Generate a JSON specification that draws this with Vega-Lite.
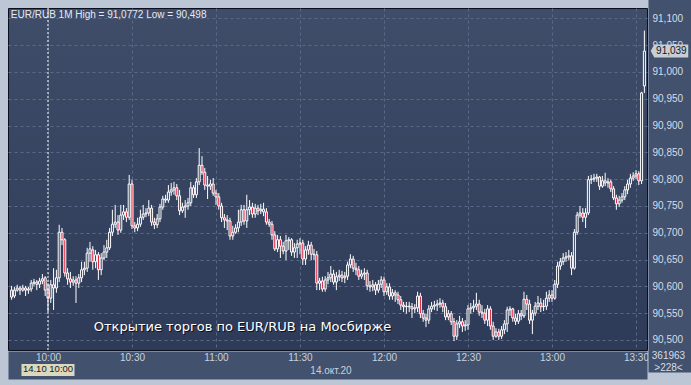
{
"$schema":"https://vega.github.io/schema/vega-lite/v6.json",
"width":639,"height":342,
"autosize":{"type":"none"},
"padding":{"left":8,"top":8,"right":44,"bottom":35},
"background":"#bcc6d4",
"data":{"format":{"parse":{"t":"date:'%H:%M'"}},"values":[
{"t":"09:47","o":90.593,"h":90.601,"l":90.575,"c":90.580},
{"t":"09:48","o":90.582,"h":90.599,"l":90.578,"c":90.593},
{"t":"09:49","o":90.593,"h":90.603,"l":90.590,"c":90.597},
{"t":"09:50","o":90.597,"h":90.601,"l":90.584,"c":90.593},
{"t":"09:51","o":90.593,"h":90.603,"l":90.590,"c":90.597},
{"t":"09:52","o":90.597,"h":90.601,"l":90.582,"c":90.593},
{"t":"09:53","o":90.593,"h":90.599,"l":90.586,"c":90.595},
{"t":"09:54","o":90.595,"h":90.612,"l":90.590,"c":90.606},
{"t":"09:55","o":90.606,"h":90.614,"l":90.601,"c":90.608},
{"t":"09:56","o":90.608,"h":90.612,"l":90.593,"c":90.604},
{"t":"09:57","o":90.604,"h":90.616,"l":90.597,"c":90.610},
{"t":"09:58","o":90.610,"h":90.623,"l":90.604,"c":90.614},
{"t":"09:59","o":90.616,"h":90.619,"l":90.582,"c":90.593},
{"t":"10:00","o":90.593,"h":90.606,"l":90.552,"c":90.578},
{"t":"10:01","o":90.578,"h":90.612,"l":90.569,"c":90.603},
{"t":"10:02","o":90.603,"h":90.634,"l":90.556,"c":90.597},
{"t":"10:03","o":90.597,"h":90.631,"l":90.588,"c":90.616},
{"t":"10:04","o":90.616,"h":90.715,"l":90.608,"c":90.701},
{"t":"10:05","o":90.701,"h":90.709,"l":90.677,"c":90.687},
{"t":"10:06","o":90.687,"h":90.690,"l":90.618,"c":90.625},
{"t":"10:07","o":90.625,"h":90.634,"l":90.603,"c":90.614},
{"t":"10:08","o":90.614,"h":90.627,"l":90.597,"c":90.608},
{"t":"10:09","o":90.608,"h":90.619,"l":90.601,"c":90.612},
{"t":"10:10","o":90.612,"h":90.619,"l":90.569,"c":90.606},
{"t":"10:11","o":90.606,"h":90.623,"l":90.597,"c":90.616},
{"t":"10:12","o":90.616,"h":90.646,"l":90.608,"c":90.631},
{"t":"10:13","o":90.631,"h":90.646,"l":90.621,"c":90.634},
{"t":"10:14","o":90.634,"h":90.672,"l":90.627,"c":90.662},
{"t":"10:15","o":90.662,"h":90.683,"l":90.646,"c":90.670},
{"t":"10:16","o":90.668,"h":90.675,"l":90.631,"c":90.646},
{"t":"10:17","o":90.646,"h":90.668,"l":90.634,"c":90.659},
{"t":"10:18","o":90.659,"h":90.664,"l":90.612,"c":90.631},
{"t":"10:19","o":90.631,"h":90.662,"l":90.621,"c":90.653},
{"t":"10:20","o":90.653,"h":90.677,"l":90.649,"c":90.664},
{"t":"10:21","o":90.664,"h":90.687,"l":90.653,"c":90.672},
{"t":"10:22","o":90.672,"h":90.709,"l":90.668,"c":90.701},
{"t":"10:23","o":90.701,"h":90.743,"l":90.694,"c":90.716},
{"t":"10:24","o":90.716,"h":90.752,"l":90.709,"c":90.720},
{"t":"10:25","o":90.720,"h":90.733,"l":90.696,"c":90.705},
{"t":"10:26","o":90.705,"h":90.752,"l":90.700,"c":90.733},
{"t":"10:27","o":90.733,"h":90.752,"l":90.724,"c":90.739},
{"t":"10:28","o":90.739,"h":90.746,"l":90.720,"c":90.729},
{"t":"10:29","o":90.729,"h":90.808,"l":90.724,"c":90.791},
{"t":"10:30","o":90.791,"h":90.799,"l":90.707,"c":90.713},
{"t":"10:31","o":90.713,"h":90.720,"l":90.701,"c":90.709},
{"t":"10:32","o":90.709,"h":90.728,"l":90.703,"c":90.716},
{"t":"10:33","o":90.716,"h":90.743,"l":90.711,"c":90.729},
{"t":"10:34","o":90.729,"h":90.752,"l":90.724,"c":90.735},
{"t":"10:35","o":90.735,"h":90.746,"l":90.729,"c":90.737},
{"t":"10:36","o":90.737,"h":90.761,"l":90.731,"c":90.746},
{"t":"10:37","o":90.746,"h":90.752,"l":90.713,"c":90.720},
{"t":"10:38","o":90.720,"h":90.728,"l":90.707,"c":90.715},
{"t":"10:39","o":90.715,"h":90.735,"l":90.709,"c":90.726},
{"t":"10:40","o":90.726,"h":90.754,"l":90.720,"c":90.748},
{"t":"10:41","o":90.748,"h":90.769,"l":90.743,"c":90.763},
{"t":"10:42","o":90.763,"h":90.771,"l":90.756,"c":90.761},
{"t":"10:43","o":90.761,"h":90.789,"l":90.756,"c":90.776},
{"t":"10:44","o":90.776,"h":90.793,"l":90.769,"c":90.780},
{"t":"10:45","o":90.780,"h":90.795,"l":90.771,"c":90.784},
{"t":"10:46","o":90.784,"h":90.791,"l":90.761,"c":90.769},
{"t":"10:47","o":90.769,"h":90.780,"l":90.733,"c":90.741},
{"t":"10:48","o":90.741,"h":90.756,"l":90.737,"c":90.748},
{"t":"10:49","o":90.748,"h":90.761,"l":90.728,"c":90.750},
{"t":"10:50","o":90.750,"h":90.765,"l":90.743,"c":90.756},
{"t":"10:51","o":90.756,"h":90.795,"l":90.750,"c":90.784},
{"t":"10:52","o":90.784,"h":90.789,"l":90.765,"c":90.771},
{"t":"10:53","o":90.771,"h":90.802,"l":90.765,"c":90.795},
{"t":"10:54","o":90.795,"h":90.858,"l":90.789,"c":90.826},
{"t":"10:55","o":90.826,"h":90.843,"l":90.808,"c":90.813},
{"t":"10:56","o":90.813,"h":90.821,"l":90.780,"c":90.789},
{"t":"10:57","o":90.789,"h":90.806,"l":90.763,"c":90.787},
{"t":"10:58","o":90.787,"h":90.799,"l":90.780,"c":90.791},
{"t":"10:59","o":90.791,"h":90.802,"l":90.769,"c":90.774},
{"t":"11:00","o":90.774,"h":90.780,"l":90.752,"c":90.767},
{"t":"11:01","o":90.767,"h":90.774,"l":90.743,"c":90.750},
{"t":"11:02","o":90.750,"h":90.756,"l":90.720,"c":90.728},
{"t":"11:03","o":90.728,"h":90.735,"l":90.709,"c":90.724},
{"t":"11:04","o":90.724,"h":90.733,"l":90.705,"c":90.722},
{"t":"11:05","o":90.722,"h":90.728,"l":90.687,"c":90.694},
{"t":"11:06","o":90.694,"h":90.713,"l":90.687,"c":90.701},
{"t":"11:07","o":90.701,"h":90.716,"l":90.698,"c":90.709},
{"t":"11:08","o":90.709,"h":90.743,"l":90.701,"c":90.720},
{"t":"11:09","o":90.720,"h":90.752,"l":90.713,"c":90.743},
{"t":"11:10","o":90.743,"h":90.752,"l":90.715,"c":90.722},
{"t":"11:11","o":90.722,"h":90.771,"l":90.709,"c":90.743},
{"t":"11:12","o":90.743,"h":90.761,"l":90.733,"c":90.748},
{"t":"11:13","o":90.748,"h":90.756,"l":90.728,"c":90.735},
{"t":"11:14","o":90.735,"h":90.754,"l":90.728,"c":90.746},
{"t":"11:15","o":90.746,"h":90.752,"l":90.733,"c":90.741},
{"t":"11:16","o":90.741,"h":90.754,"l":90.735,"c":90.744},
{"t":"11:17","o":90.744,"h":90.756,"l":90.731,"c":90.739},
{"t":"11:18","o":90.739,"h":90.746,"l":90.715,"c":90.720},
{"t":"11:19","o":90.720,"h":90.726,"l":90.711,"c":90.716},
{"t":"11:20","o":90.716,"h":90.722,"l":90.687,"c":90.696},
{"t":"11:21","o":90.696,"h":90.703,"l":90.666,"c":90.670},
{"t":"11:22","o":90.670,"h":90.696,"l":90.664,"c":90.687},
{"t":"11:23","o":90.687,"h":90.694,"l":90.653,"c":90.675},
{"t":"11:24","o":90.675,"h":90.683,"l":90.660,"c":90.666},
{"t":"11:25","o":90.666,"h":90.696,"l":90.649,"c":90.685},
{"t":"11:26","o":90.685,"h":90.692,"l":90.668,"c":90.687},
{"t":"11:27","o":90.687,"h":90.690,"l":90.657,"c":90.664},
{"t":"11:28","o":90.664,"h":90.681,"l":90.653,"c":90.672},
{"t":"11:29","o":90.672,"h":90.687,"l":90.653,"c":90.679},
{"t":"11:30","o":90.679,"h":90.690,"l":90.660,"c":90.681},
{"t":"11:31","o":90.681,"h":90.687,"l":90.640,"c":90.651},
{"t":"11:32","o":90.651,"h":90.675,"l":90.640,"c":90.668},
{"t":"11:33","o":90.668,"h":90.685,"l":90.659,"c":90.677},
{"t":"11:34","o":90.677,"h":90.683,"l":90.649,"c":90.660},
{"t":"11:35","o":90.660,"h":90.670,"l":90.649,"c":90.659},
{"t":"11:36","o":90.659,"h":90.666,"l":90.593,"c":90.606},
{"t":"11:37","o":90.606,"h":90.616,"l":90.593,"c":90.610},
{"t":"11:38","o":90.610,"h":90.618,"l":90.590,"c":90.595},
{"t":"11:39","o":90.595,"h":90.619,"l":90.590,"c":90.612},
{"t":"11:40","o":90.612,"h":90.627,"l":90.604,"c":90.616},
{"t":"11:41","o":90.616,"h":90.638,"l":90.608,"c":90.623},
{"t":"11:42","o":90.623,"h":90.631,"l":90.603,"c":90.608},
{"t":"11:43","o":90.608,"h":90.627,"l":90.593,"c":90.618},
{"t":"11:44","o":90.618,"h":90.631,"l":90.610,"c":90.621},
{"t":"11:45","o":90.621,"h":90.629,"l":90.608,"c":90.616},
{"t":"11:46","o":90.616,"h":90.627,"l":90.606,"c":90.619},
{"t":"11:47","o":90.619,"h":90.646,"l":90.612,"c":90.640},
{"t":"11:48","o":90.640,"h":90.660,"l":90.634,"c":90.651},
{"t":"11:49","o":90.651,"h":90.657,"l":90.627,"c":90.634},
{"t":"11:50","o":90.634,"h":90.644,"l":90.621,"c":90.631},
{"t":"11:51","o":90.631,"h":90.638,"l":90.612,"c":90.619},
{"t":"11:52","o":90.619,"h":90.631,"l":90.614,"c":90.623},
{"t":"11:53","o":90.623,"h":90.634,"l":90.612,"c":90.625},
{"t":"11:54","o":90.625,"h":90.631,"l":90.593,"c":90.601},
{"t":"11:55","o":90.601,"h":90.610,"l":90.590,"c":90.599},
{"t":"11:56","o":90.599,"h":90.612,"l":90.591,"c":90.603},
{"t":"11:57","o":90.603,"h":90.608,"l":90.584,"c":90.593},
{"t":"11:58","o":90.593,"h":90.612,"l":90.588,"c":90.604},
{"t":"11:59","o":90.604,"h":90.619,"l":90.597,"c":90.612},
{"t":"12:00","o":90.612,"h":90.618,"l":90.582,"c":90.590},
{"t":"12:01","o":90.590,"h":90.606,"l":90.584,"c":90.599},
{"t":"12:02","o":90.599,"h":90.606,"l":90.575,"c":90.582},
{"t":"12:03","o":90.582,"h":90.595,"l":90.575,"c":90.588},
{"t":"12:04","o":90.588,"h":90.593,"l":90.571,"c":90.584},
{"t":"12:05","o":90.584,"h":90.590,"l":90.567,"c":90.575},
{"t":"12:06","o":90.575,"h":90.582,"l":90.556,"c":90.565},
{"t":"12:07","o":90.565,"h":90.571,"l":90.552,"c":90.562},
{"t":"12:08","o":90.562,"h":90.571,"l":90.549,"c":90.563},
{"t":"12:09","o":90.563,"h":90.571,"l":90.552,"c":90.562},
{"t":"12:10","o":90.562,"h":90.569,"l":90.541,"c":90.558},
{"t":"12:11","o":90.558,"h":90.567,"l":90.550,"c":90.560},
{"t":"12:12","o":90.560,"h":90.590,"l":90.552,"c":90.582},
{"t":"12:13","o":90.582,"h":90.588,"l":90.541,"c":90.549},
{"t":"12:14","o":90.549,"h":90.556,"l":90.534,"c":90.541},
{"t":"12:15","o":90.541,"h":90.549,"l":90.524,"c":90.537},
{"t":"12:16","o":90.537,"h":90.565,"l":90.530,"c":90.558},
{"t":"12:17","o":90.558,"h":90.571,"l":90.552,"c":90.563},
{"t":"12:18","o":90.563,"h":90.573,"l":90.556,"c":90.565},
{"t":"12:19","o":90.565,"h":90.575,"l":90.554,"c":90.567},
{"t":"12:20","o":90.567,"h":90.578,"l":90.560,"c":90.569},
{"t":"12:21","o":90.569,"h":90.575,"l":90.552,"c":90.562},
{"t":"12:22","o":90.562,"h":90.569,"l":90.537,"c":90.543},
{"t":"12:23","o":90.543,"h":90.556,"l":90.537,"c":90.549},
{"t":"12:24","o":90.549,"h":90.554,"l":90.528,"c":90.534},
{"t":"12:25","o":90.534,"h":90.541,"l":90.498,"c":90.507},
{"t":"12:26","o":90.507,"h":90.537,"l":90.500,"c":90.530},
{"t":"12:27","o":90.530,"h":90.545,"l":90.522,"c":90.534},
{"t":"12:28","o":90.534,"h":90.541,"l":90.515,"c":90.526},
{"t":"12:29","o":90.526,"h":90.537,"l":90.517,"c":90.528},
{"t":"12:30","o":90.528,"h":90.565,"l":90.519,"c":90.558},
{"t":"12:31","o":90.558,"h":90.569,"l":90.549,"c":90.560},
{"t":"12:32","o":90.560,"h":90.575,"l":90.552,"c":90.563},
{"t":"12:33","o":90.563,"h":90.588,"l":90.556,"c":90.567},
{"t":"12:34","o":90.567,"h":90.575,"l":90.545,"c":90.552},
{"t":"12:35","o":90.552,"h":90.565,"l":90.541,"c":90.550},
{"t":"12:36","o":90.550,"h":90.558,"l":90.530,"c":90.537},
{"t":"12:37","o":90.537,"h":90.565,"l":90.526,"c":90.558},
{"t":"12:38","o":90.558,"h":90.563,"l":90.519,"c":90.526},
{"t":"12:39","o":90.526,"h":90.534,"l":90.500,"c":90.507},
{"t":"12:40","o":90.507,"h":90.522,"l":90.504,"c":90.515},
{"t":"12:41","o":90.515,"h":90.521,"l":90.500,"c":90.507},
{"t":"12:42","o":90.507,"h":90.526,"l":90.502,"c":90.519},
{"t":"12:43","o":90.519,"h":90.537,"l":90.511,"c":90.530},
{"t":"12:44","o":90.530,"h":90.562,"l":90.515,"c":90.556},
{"t":"12:45","o":90.556,"h":90.563,"l":90.545,"c":90.558},
{"t":"12:46","o":90.558,"h":90.560,"l":90.534,"c":90.541},
{"t":"12:47","o":90.541,"h":90.549,"l":90.528,"c":90.535},
{"t":"12:48","o":90.535,"h":90.556,"l":90.530,"c":90.549},
{"t":"12:49","o":90.549,"h":90.556,"l":90.537,"c":90.545},
{"t":"12:50","o":90.545,"h":90.590,"l":90.541,"c":90.576},
{"t":"12:51","o":90.576,"h":90.584,"l":90.556,"c":90.567},
{"t":"12:52","o":90.567,"h":90.575,"l":90.530,"c":90.537},
{"t":"12:53","o":90.537,"h":90.556,"l":90.511,"c":90.550},
{"t":"12:54","o":90.550,"h":90.571,"l":90.545,"c":90.563},
{"t":"12:55","o":90.563,"h":90.582,"l":90.556,"c":90.569},
{"t":"12:56","o":90.569,"h":90.578,"l":90.552,"c":90.562},
{"t":"12:57","o":90.562,"h":90.575,"l":90.554,"c":90.563},
{"t":"12:58","o":90.563,"h":90.590,"l":90.556,"c":90.578},
{"t":"12:59","o":90.578,"h":90.593,"l":90.571,"c":90.584},
{"t":"13:00","o":90.584,"h":90.593,"l":90.571,"c":90.578},
{"t":"13:01","o":90.578,"h":90.612,"l":90.575,"c":90.604},
{"t":"13:02","o":90.604,"h":90.646,"l":90.597,"c":90.638},
{"t":"13:03","o":90.638,"h":90.653,"l":90.631,"c":90.646},
{"t":"13:04","o":90.646,"h":90.662,"l":90.640,"c":90.653},
{"t":"13:05","o":90.653,"h":90.664,"l":90.646,"c":90.655},
{"t":"13:06","o":90.655,"h":90.668,"l":90.649,"c":90.657},
{"t":"13:07","o":90.657,"h":90.664,"l":90.621,"c":90.634},
{"t":"13:08","o":90.634,"h":90.707,"l":90.631,"c":90.701},
{"t":"13:09","o":90.701,"h":90.739,"l":90.696,"c":90.733},
{"t":"13:10","o":90.733,"h":90.750,"l":90.728,"c":90.737},
{"t":"13:11","o":90.737,"h":90.746,"l":90.720,"c":90.729},
{"t":"13:12","o":90.729,"h":90.746,"l":90.709,"c":90.737},
{"t":"13:13","o":90.737,"h":90.806,"l":90.733,"c":90.799},
{"t":"13:14","o":90.799,"h":90.808,"l":90.791,"c":90.800},
{"t":"13:15","o":90.800,"h":90.810,"l":90.795,"c":90.802},
{"t":"13:16","o":90.802,"h":90.810,"l":90.795,"c":90.804},
{"t":"13:17","o":90.804,"h":90.806,"l":90.780,"c":90.787},
{"t":"13:18","o":90.787,"h":90.806,"l":90.784,"c":90.797},
{"t":"13:19","o":90.797,"h":90.812,"l":90.787,"c":90.793},
{"t":"13:20","o":90.793,"h":90.802,"l":90.784,"c":90.795},
{"t":"13:21","o":90.795,"h":90.799,"l":90.776,"c":90.782},
{"t":"13:22","o":90.782,"h":90.787,"l":90.761,"c":90.765},
{"t":"13:23","o":90.765,"h":90.771,"l":90.743,"c":90.754},
{"t":"13:24","o":90.754,"h":90.769,"l":90.748,"c":90.761},
{"t":"13:25","o":90.761,"h":90.774,"l":90.756,"c":90.767},
{"t":"13:26","o":90.767,"h":90.787,"l":90.761,"c":90.780},
{"t":"13:27","o":90.780,"h":90.799,"l":90.772,"c":90.791},
{"t":"13:28","o":90.791,"h":90.810,"l":90.784,"c":90.802},
{"t":"13:29","o":90.802,"h":90.813,"l":90.797,"c":90.806},
{"t":"13:30","o":90.806,"h":90.817,"l":90.800,"c":90.810},
{"t":"13:31","o":90.810,"h":90.815,"l":90.789,"c":90.797},
{"t":"13:32","o":90.797,"h":90.963,"l":90.791,"c":90.961},
{"t":"13:33","o":90.974,"h":91.0772,"l":90.961,"c":91.039}
]},
"resolve":{"axis":{"x":"independent","y":"independent"}},
"encoding":{
 "x":{"field":"t","type":"temporal","axis":null,
  "scale":{"padding":0,"domain":[{"year":1900,"month":1,"date":1,"hours":9,"minutes":45,"seconds":43},{"year":1900,"month":1,"date":1,"hours":13,"minutes":33,"seconds":56}]}}
},
"layer":[
 {"mark":{"type":"rule","color":"#ffffff","strokeWidth":1},
  "encoding":{
   "x":{"field":"t","type":"temporal",
    "scale":{"padding":0,"domain":[{"year":1900,"month":1,"date":1,"hours":9,"minutes":45,"seconds":43},{"year":1900,"month":1,"date":1,"hours":13,"minutes":33,"seconds":56}]},
    "axis":{"orient":"bottom","title":null,"labels":false,"ticks":false,
     "values":[
      {"year":1900,"month":1,"date":1,"hours":10,"minutes":0},
      {"year":1900,"month":1,"date":1,"hours":10,"minutes":30},
      {"year":1900,"month":1,"date":1,"hours":11,"minutes":0},
      {"year":1900,"month":1,"date":1,"hours":11,"minutes":30},
      {"year":1900,"month":1,"date":1,"hours":12,"minutes":0},
      {"year":1900,"month":1,"date":1,"hours":12,"minutes":30},
      {"year":1900,"month":1,"date":1,"hours":13,"minutes":0},
      {"year":1900,"month":1,"date":1,"hours":13,"minutes":30}],
     "offset":15,"domainWidth":28,"domainColor":"#42516d","domainCap":"butt",
     "grid":true,"gridColor":"#5a6987","gridDash":[3,3],"gridWidth":1}},
   "y":{"field":"l","type":"quantitative","scale":{"domain":[90.4813,91.1194],"nice":false,"zero":false},
    "axis":{"orient":"right","title":null,"labels":false,"ticks":false,
     "values":[90.5,90.55,90.6,90.65,90.7,90.75,90.8,90.85,90.9,90.95,91.0,91.05,91.1],
     "offset":23,"domainWidth":44,"domainColor":"#42516d","domainCap":"square",
     "grid":true,"gridColor":"#5a6987","gridDash":[3,3],"gridWidth":1}},
   "y2":{"field":"h"}}},
 {"mark":{"type":"bar","width":2,"stroke":"#ffffff","strokeWidth":1},
  "encoding":{
   "x":{"field":"t","type":"temporal",
    "scale":{"padding":0,"domain":[{"year":1900,"month":1,"date":1,"hours":9,"minutes":45,"seconds":43},{"year":1900,"month":1,"date":1,"hours":13,"minutes":33,"seconds":56}]},
    "axis":{"orient":"bottom","domain":false,"grid":false,"ticks":false,
     "values":[
      {"year":1900,"month":1,"date":1,"hours":10,"minutes":0},
      {"year":1900,"month":1,"date":1,"hours":10,"minutes":30},
      {"year":1900,"month":1,"date":1,"hours":11,"minutes":0},
      {"year":1900,"month":1,"date":1,"hours":11,"minutes":30},
      {"year":1900,"month":1,"date":1,"hours":12,"minutes":0},
      {"year":1900,"month":1,"date":1,"hours":12,"minutes":30},
      {"year":1900,"month":1,"date":1,"hours":13,"minutes":0},
      {"year":1900,"month":1,"date":1,"hours":13,"minutes":30}],
     "format":"%H:%M","offset":15,"labelPadding":-13,"labelColor":"#c9d1dd","labelFontSize":10,
     "labelFlush":false,"labelOverlap":false,
     "title":"14.окт.20","titleFontSize":10,"titleFontWeight":"normal","titleColor":"#c9d1dd",
     "titleX":322.5,"titleY":0,"titleAlign":"center","titleBaseline":"top"}},
   "y":{"field":"o","type":"quantitative","scale":{"domain":[90.4813,91.1194],"nice":false,"zero":false},
    "axis":{"orient":"right","domain":false,"grid":false,"ticks":false,
     "values":[90.5,90.55,90.6,90.65,90.7,90.75,90.8,90.85,90.9,90.95,91.0,91.05,91.1],
     "format":".3f","offset":23,"labelPadding":-18,"labelAlign":"left","labelColor":"#d6dde9","labelFontSize":10,
     "title":["361963",">228<"],"titleAngle":0,"titleAlign":"center","titleBaseline":"top",
     "titleX":-2,"titleY":342,"titleFontSize":10,"titleFontWeight":"normal","titleColor":"#d6dce8","titleLineHeight":12}},
   "y2":{"field":"c"},
   "fill":{"condition":{"test":"datum.c < datum.o","value":"#e3102e"},"value":"#33405c"}}},
 {"data":{"values":[{"t":"10:00"}],"format":{"parse":{"t":"date:'%H:%M'"}}},
  "mark":{"type":"rule","color":"#ffffff","strokeDash":[2,2],"strokeWidth":1},
  "encoding":{}},
 {"data":{"values":[{"t":"09:46","p":91.1194,"label":"EUR/RUB 1M High = 91,0772 Low = 90,498"}],"format":{"parse":{"t":"date:'%H:%M'"}}},
  "mark":{"type":"text","align":"left","baseline":"top","dx":2,"dy":2,"fontSize":10,"font":"Liberation Sans","color":"#e6eaf0"},
  "encoding":{"y":{"field":"p","type":"quantitative","scale":{"domain":[90.4813,91.1194],"nice":false,"zero":false},"axis":null},"text":{"field":"label"}}},
 {"data":{"values":[{"t":"10:16","p":90.524,"label":"Открытие торгов по EUR/RUB на Мосбирже"}],"format":{"parse":{"t":"date:'%H:%M'"}}},
  "encoding":{"y":{"field":"p","type":"quantitative","scale":{"domain":[90.4813,91.1194],"nice":false,"zero":false},"axis":null},"text":{"field":"label"}},
  "layer":[
   {"mark":{"type":"text","align":"left","baseline":"middle","dx":2,"dy":1,"fontSize":13,"font":"DejaVu Sans","color":"#0c1222"}},
   {"mark":{"type":"text","align":"left","baseline":"middle","dx":1,"dy":0,"fontSize":13,"font":"DejaVu Sans","color":"#ffffff"}}
  ]},
 {"data":{"values":[{"t":"10:00","p":90.4813,"label":"14.10 10:00"}],"format":{"parse":{"t":"date:'%H:%M'"}}},
  "encoding":{"y":{"field":"p","type":"quantitative","scale":{"domain":[90.4813,91.1194],"nice":false,"zero":false},"axis":null}},
  "layer":[
   {"mark":{"type":"point","filled":true,"opacity":1,"size":196,"shape":"M-3.79,2H3.79V3.71H-3.79Z","color":"#dcd8bd","strokeWidth":0}},
   {"mark":{"type":"text","align":"center","baseline":"middle","dy":19,"fontSize":9.5,"font":"Liberation Sans","color":"#15171c"},"encoding":{"text":{"field":"label"}}}
  ]},
 {"data":{"values":[{"t":"13:33","p":91.039,"label":"91,039"}],"format":{"parse":{"t":"date:'%H:%M'"}}},
  "encoding":{"y":{"field":"p","type":"quantitative","scale":{"domain":[90.4813,91.1194],"nice":false,"zero":false},"axis":null}},
  "layer":[
   {"mark":{"type":"point","filled":true,"opacity":1,"size":169,"shape":"M0.97,0L1.52,-1H6.75V1H1.52Z","color":"#c9cdd4","strokeWidth":0}},
   {"mark":{"type":"text","align":"center","baseline":"middle","dx":27,"fontSize":10,"font":"Liberation Sans","color":"#15171c"},"encoding":{"text":{"field":"label"}}}
  ]}
],
"config":{
 "locale":{"number":{"decimal":",","thousands":" ","grouping":[3],"currency":["",""]}},
 "view":{"stroke":"#0b1020","strokeWidth":1,"fill":{"gradient":"linear","x1":0,"y1":0,"x2":0,"y2":1,"stops":[{"offset":0,"color":"#3f4d69"},{"offset":1,"color":"#2e3b58"}]}},
 "axis":{"labelFont":"Liberation Sans","titleFont":"Liberation Sans"}
}
}
